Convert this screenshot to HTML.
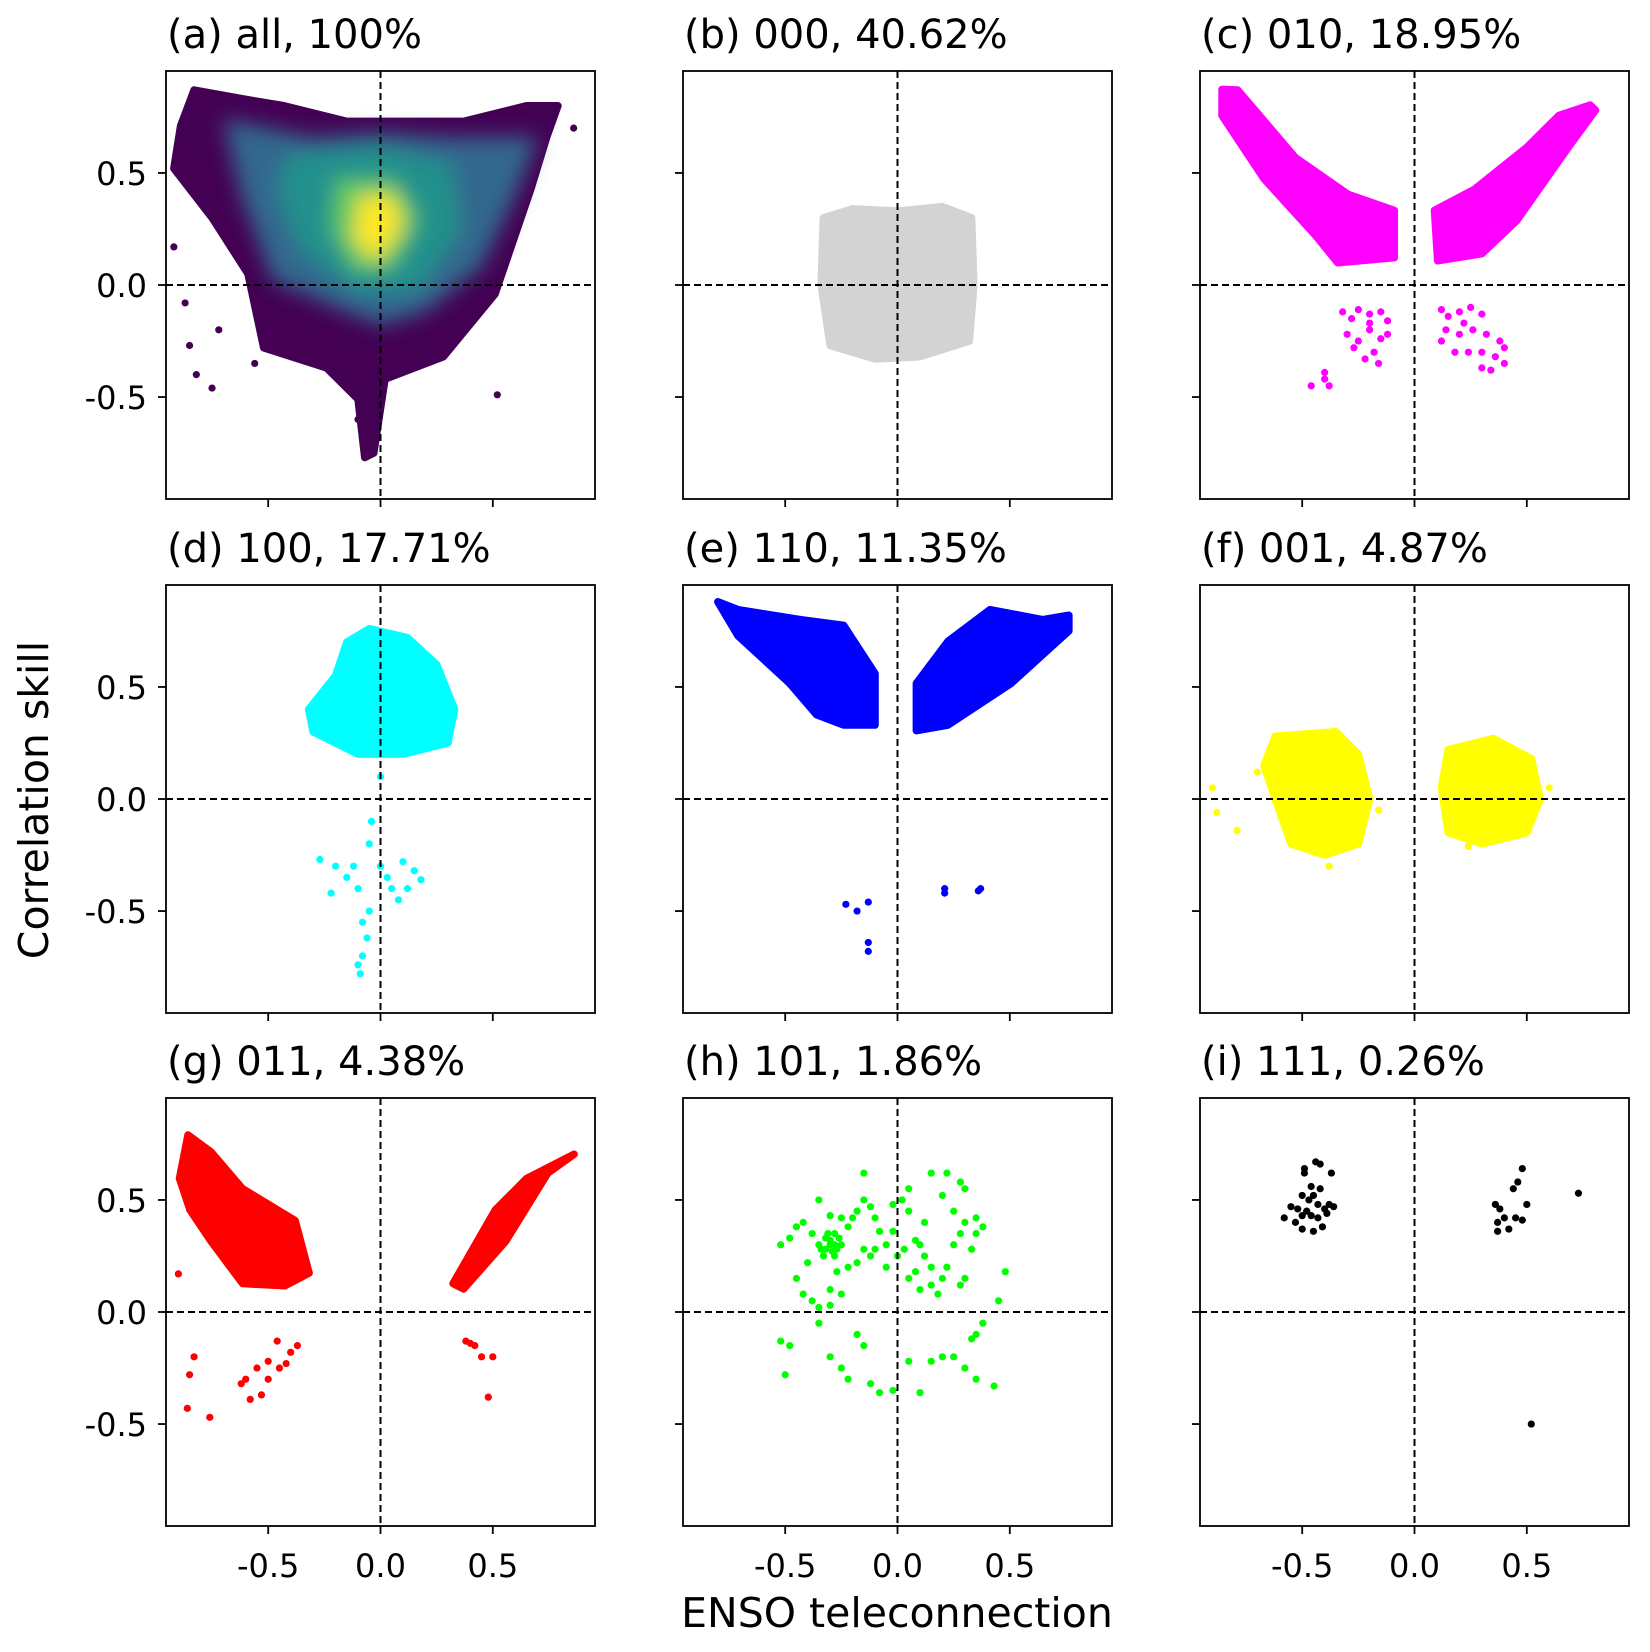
<!DOCTYPE html>
<html><head><meta charset="utf-8">
<style>
body{margin:0;background:#fff;}
svg{display:block;font-family:"DejaVu Sans","Liberation Sans",sans-serif;}
</style></head>
<body>
<svg id="fig" width="1650" height="1652" viewBox="0 0 1650 1652" xmlns="http://www.w3.org/2000/svg">
<defs>
<filter id="blur" x="-20%" y="-20%" width="140%" height="140%"><feGaussianBlur stdDeviation="10"/></filter>
</defs>
<text transform="translate(48,800) rotate(-90)" text-anchor="middle" font-size="41">Correlation skill</text>
<text x="897" y="1627" text-anchor="middle" font-size="41">ENSO teleconnection</text>
</svg>
<script>
// ---- data (x = ENSO teleconnection, y = correlation skill) ----
const titles = ["(a) all, 100%","(b) 000, 40.62%","(c) 010, 18.95%","(d) 100, 17.71%","(e) 110, 11.35%","(f) 001, 4.87%","(g) 011, 4.38%","(h) 101, 1.86%","(i) 111, 0.26%"];
const colors = ["#440154","#d3d3d3","#ff00ff","#00ffff","#0000ff","#ffff00","#ff0000","#00ff00","#000000"];
const tickValues = [-0.5,0.0,0.5];
const tickLabels = ["-0.5","0.0","0.5"];
// panel a: outer envelope + density levels
const hullA = [[-0.83,0.87],[-0.89,0.71],[-0.92,0.52],[-0.75,0.3],[-0.59,0.05],[-0.52,-0.28],[-0.24,-0.37],[-0.1,-0.51],[-0.07,-0.77],[-0.03,-0.75],[0.02,-0.42],[0.28,-0.32],[0.51,-0.04],[0.67,0.43],[0.74,0.66],[0.79,0.8],[0.65,0.8],[0.37,0.73],[0.18,0.73],[-0.15,0.73],[-0.43,0.8],[-0.61,0.83]];
const densA1 = [[-0.7,0.74],[-0.3,0.66],[0,0.68],[0.3,0.66],[0.7,0.66],[0.6,0.4],[0.45,0.08],[0.2,-0.12],[0,-0.18],[-0.2,-0.1],[-0.48,0.02],[-0.62,0.4]];
const densA2 = [[-0.42,0.58],[0,0.62],[0.32,0.54],[0.36,0.25],[0.18,-0.02],[-0.1,-0.04],[-0.36,0.16],[-0.46,0.42]];
const densA3 = [[-0.2,0.47],[0.06,0.47],[0.17,0.3],[0.06,0.08],[-0.12,0.06],[-0.22,0.25]];
const densA4 = [[-0.1,0.4],[0.06,0.4],[0.1,0.26],[-0.02,0.1],[-0.12,0.2]];
const ptsA = [[-0.92,0.17],[-0.87,-0.08],[-0.85,-0.27],[-0.82,-0.4],[-0.75,-0.46],[-0.72,-0.2],[-0.56,-0.35],[0.86,0.7],[0.52,-0.49],[-0.1,-0.6],[-0.08,-0.68]];
// panel b
const hullB = [[-0.33,0.3],[-0.2,0.34],[0,0.33],[0.2,0.35],[0.33,0.3],[0.34,0.0],[0.32,-0.25],[0.1,-0.32],[-0.1,-0.33],[-0.3,-0.27],[-0.34,0.0]];
// panel c
const hullC1 = [[-0.857,0.873],[-0.787,0.87],[-0.53,0.568],[-0.295,0.404],[-0.09,0.333],[-0.09,0.122],[-0.342,0.099],[-0.436,0.216],[-0.67,0.474],[-0.857,0.756]];
const hullC2 = [[0.089,0.333],[0.267,0.427],[0.501,0.615],[0.642,0.756],[0.782,0.803],[0.806,0.78],[0.689,0.62],[0.454,0.286],[0.3,0.14],[0.103,0.108]];
const ptsC = [[-0.32,-0.12],[-0.28,-0.15],[-0.25,-0.11],[-0.2,-0.13],[-0.15,-0.12],[-0.12,-0.16],[-0.3,-0.22],[-0.25,-0.25],[-0.2,-0.2],[-0.15,-0.24],[-0.12,-0.22],[-0.18,-0.3],[-0.22,-0.33],[-0.27,-0.28],[-0.16,-0.35],[-0.2,-0.17],[-0.46,-0.45],[-0.4,-0.42],[-0.38,-0.45],[-0.4,-0.39],
 [0.12,-0.11],[0.15,-0.14],[0.2,-0.12],[0.25,-0.1],[0.3,-0.13],[0.14,-0.2],[0.2,-0.22],[0.26,-0.2],[0.32,-0.22],[0.38,-0.25],[0.4,-0.28],[0.18,-0.3],[0.24,-0.3],[0.3,-0.3],[0.36,-0.32],[0.3,-0.37],[0.34,-0.38],[0.22,-0.17],[0.12,-0.25],[0.4,-0.35]];
// panel d
const hullD = [[-0.05,0.76],[0.12,0.72],[0.25,0.6],[0.33,0.4],[0.3,0.25],[0.1,0.2],[-0.1,0.2],[-0.3,0.3],[-0.32,0.4],[-0.2,0.55],[-0.15,0.7]];
const ptsD = [[-0.27,-0.27],[-0.2,-0.3],[-0.15,-0.35],[-0.1,-0.4],[-0.05,-0.5],[-0.08,-0.55],[-0.06,-0.62],[-0.08,-0.7],[-0.1,-0.74],[-0.09,-0.78],[-0.05,-0.2],[-0.04,-0.1],[0,-0.3],[0.05,-0.4],[0.1,-0.28],[0.15,-0.32],[0.18,-0.36],[0.08,-0.45],[-0.12,-0.3],[-0.22,-0.42],[0.03,-0.35],[0.12,-0.4],[0.0,0.1]];
// panel e
const hullE1 = [[-0.8,0.88],[-0.71,0.845],[-0.43,0.8],[-0.24,0.775],[-0.1,0.56],[-0.1,0.33],[-0.24,0.33],[-0.36,0.376],[-0.48,0.516],[-0.71,0.728]];
const hullE2 = [[0.084,0.516],[0.225,0.704],[0.412,0.845],[0.646,0.8],[0.763,0.82],[0.763,0.75],[0.506,0.516],[0.225,0.33],[0.084,0.305]];
const ptsE = [[-0.23,-0.47],[-0.18,-0.5],[-0.13,-0.46],[-0.13,-0.64],[-0.13,-0.68],[0.21,-0.4],[0.21,-0.42],[0.36,-0.41],[0.37,-0.4]];
// panel f
const hullF1 = [[-0.62,0.28],[-0.35,0.3],[-0.25,0.2],[-0.2,0.0],[-0.25,-0.2],[-0.4,-0.25],[-0.55,-0.2],[-0.62,0.0],[-0.67,0.15]];
const hullF2 = [[0.15,0.22],[0.35,0.27],[0.52,0.18],[0.56,0.0],[0.5,-0.15],[0.3,-0.2],[0.15,-0.15],[0.12,0.05]];
const ptsF = [[-0.9,0.05],[-0.88,-0.06],[-0.79,-0.14],[-0.38,-0.3],[-0.16,-0.05],[0.24,-0.21],[-0.7,0.12],[0.6,0.05]];
// panel g
const hullG1 = [[-0.857,0.79],[-0.754,0.714],[-0.614,0.55],[-0.38,0.408],[-0.318,0.174],[-0.426,0.117],[-0.614,0.127],[-0.754,0.315],[-0.848,0.455],[-0.895,0.596]];
const hullG2 = [[0.323,0.127],[0.511,0.455],[0.651,0.596],[0.862,0.704],[0.745,0.62],[0.557,0.315],[0.37,0.103]];
const ptsG = [[-0.85,-0.28],[-0.83,-0.2],[-0.86,-0.43],[-0.76,-0.47],[-0.6,-0.3],[-0.55,-0.25],[-0.5,-0.3],[-0.45,-0.25],[-0.4,-0.18],[-0.37,-0.15],[-0.46,-0.13],[-0.53,-0.37],[-0.58,-0.39],[-0.62,-0.32],[0.38,-0.13],[0.42,-0.15],[0.45,-0.2],[0.5,-0.2],[0.48,-0.38],[0.4,-0.14],[-0.42,-0.23],[-0.5,-0.22],[-0.9,0.17]];
// panel h
const ptsH = [[-0.52,0.3],[-0.48,0.33],[-0.45,0.38],[-0.42,0.4],[-0.38,0.35],[-0.35,0.3],[-0.32,0.28],[-0.3,0.32],[-0.28,0.35],[-0.25,0.3],[-0.28,0.25],[-0.33,0.25],[-0.22,0.38],[-0.2,0.42],[-0.18,0.45],[-0.15,0.5],[-0.12,0.47],[-0.1,0.42],[-0.08,0.36],[-0.05,0.3],[-0.02,0.48],[0.02,0.5],[0.05,0.45],[-0.35,0.5],[-0.3,0.43],[-0.25,0.42],[-0.4,0.22],[-0.45,0.15],[-0.42,0.08],[-0.38,0.05],[-0.35,0.02],[-0.3,0.03],[-0.27,0.18],[-0.22,0.2],[-0.18,0.22],[-0.15,0.28],[-0.12,0.25],[-0.05,0.2],[0.0,0.25],[0.03,0.28],[0.08,0.32],[0.1,0.3],[0.12,0.25],[0.15,0.2],[0.08,0.18],[0.05,0.15],[0.1,0.1],[0.15,0.12],[0.2,0.15],[0.18,0.08],[0.22,0.2],[0.25,0.3],[0.28,0.35],[0.3,0.4],[0.35,0.42],[0.38,0.38],[0.35,0.35],[0.33,0.28],[0.25,0.45],[0.2,0.52],[0.15,0.62],[0.22,0.62],[0.28,0.58],[0.3,0.55],[0.12,0.4],[0.3,0.15],[0.28,0.12],[0.48,0.18],[0.45,0.05],[-0.15,0.62],[-0.52,-0.13],[-0.5,-0.28],[-0.48,-0.15],[-0.3,-0.2],[-0.25,-0.25],[-0.22,-0.3],[-0.18,-0.1],[-0.15,-0.15],[-0.12,-0.32],[-0.08,-0.36],[-0.02,-0.35],[0.05,-0.22],[0.1,-0.36],[0.15,-0.22],[0.2,-0.2],[0.25,-0.2],[0.3,-0.25],[0.33,-0.12],[0.35,-0.1],[0.38,-0.05],[0.43,-0.33],[0.35,-0.3],[-0.35,-0.05],[-0.3,0.1],[-0.25,0.08],[-0.1,0.28],[0.05,0.55],[-0.02,0.36],
 [-0.32,0.33],[-0.3,0.3],[-0.28,0.3],[-0.26,0.33],[-0.34,0.28],[-0.29,0.27],[-0.27,0.28],[-0.31,0.35]];
// panel i
const ptsI = [[-0.49,0.64],[-0.49,0.62],[-0.44,0.67],[-0.42,0.66],[-0.37,0.62],[-0.42,0.55],[-0.46,0.56],[-0.5,0.52],[-0.47,0.5],[-0.45,0.52],[-0.43,0.48],[-0.4,0.46],[-0.38,0.48],[-0.36,0.47],[-0.52,0.46],[-0.55,0.47],[-0.58,0.42],[-0.53,0.4],[-0.5,0.43],[-0.46,0.43],[-0.43,0.42],[-0.41,0.38],[-0.45,0.36],[-0.5,0.37],[-0.39,0.44],[-0.48,0.45],
 [0.48,0.64],[0.46,0.58],[0.44,0.55],[0.5,0.48],[0.36,0.48],[0.38,0.46],[0.4,0.42],[0.45,0.42],[0.48,0.41],[0.37,0.4],[0.42,0.37],[0.37,0.36],[0.73,0.53],[0.52,-0.5]];

const panelHulls = [[hullA],[hullB],[hullC1,hullC2],[hullD],[hullE1,hullE2],[hullF1,hullF2],[hullG1,hullG2],[],[]];
const panelPoints = [ptsA,[],ptsC,ptsD,ptsE,ptsF,ptsG,ptsH,ptsI];
const densLevels = [densA1,densA2,densA3,densA4];
const densColors = ["#31688e","#21918c","#5ec962","#fde725"];

// ---- drawing ----
const NS = "http://www.w3.org/2000/svg";
const svg = document.getElementById("fig");
const colX = [166,683,1200], rowY = [71,585,1098], W = 429, H = 428, LIM = 0.955;
function mk(tag, attrs, parent){ const e=document.createElementNS(NS,tag); for(const k in attrs) e.setAttribute(k,attrs[k]); (parent||svg).appendChild(e); return e; }

for(let p=0;p<9;p++){
  const c=p%3, r=Math.floor(p/3), x0=colX[c], y0=rowY[r];
  const sx = v => x0 + (v+LIM)/(2*LIM)*W;
  const sy = v => y0 + (LIM-v)/(2*LIM)*H;
  const g = mk("g",{});
  
  
  const cp = mk("clipPath",{id:"cp"+p},g);
  mk("rect",{x:x0,y:y0,width:W,height:H},cp);
  const plot = mk("g",{"clip-path":"url(#cp"+p+")"},g);
  const col = colors[p];
  panelHulls[p].forEach(h=>{
    const poly = mk("polygon",{points:h.map(q=>sx(q[0])+","+sy(q[1])).join(" "),fill:col,stroke:col,"stroke-width":7.5,"stroke-linejoin":"round"},plot);
    
    
  });
  if(p===0){
    const dg = mk("g",{filter:"url(#blur)"},plot);
    densLevels.forEach((h,i)=>{
      const poly = mk("polygon",{points:h.map(q=>sx(q[0])+","+sy(q[1])).join(" "),fill:densColors[i]},dg);
      
      
    });
  }
  panelPoints[p].forEach(q=>{
    const d = mk("circle",{cx:sx(q[0]),cy:sy(q[1]),r:3.6,fill:col},plot);
    
    
  });
  const vl = mk("line",{x1:sx(0),x2:sx(0),y1:y0,y2:y0+H,stroke:"#000","stroke-width":2,"stroke-dasharray":"7,4"},g);
  
  
  const hl = mk("line",{x1:x0,x2:x0+W,y1:sy(0),y2:sy(0),stroke:"#000","stroke-width":2,"stroke-dasharray":"7,4"},g);
  
  
  const fr = mk("rect",{x:x0,y:y0,width:W,height:H,fill:"none",stroke:"#000","stroke-width":1.8},g);
  
  
  tickValues.forEach((v,i)=>{
    mk("line",{x1:sx(v),x2:sx(v),y1:y0+H,y2:y0+H+8,stroke:"#000","stroke-width":1.8},g);
    mk("line",{x1:x0-8,x2:x0,y1:sy(v),y2:sy(v),stroke:"#000","stroke-width":1.8},g);
    if(r===2){
      const t = mk("text",{x:sx(v),y:y0+H+51,"text-anchor":"middle","font-size":32},g);
      t.textContent = tickLabels[i];
      
      
    }
    if(c===0){
      const t = mk("text",{x:x0-19,y:sy(v)+12,"text-anchor":"end","font-size":32},g);
      t.textContent = tickLabels[i];
      
      
    }
  });
  const tt = mk("text",{x:x0+1,y:y0-23,"font-size":40},g);
  tt.textContent = titles[p];
  
  
}
</script>
</body></html>
